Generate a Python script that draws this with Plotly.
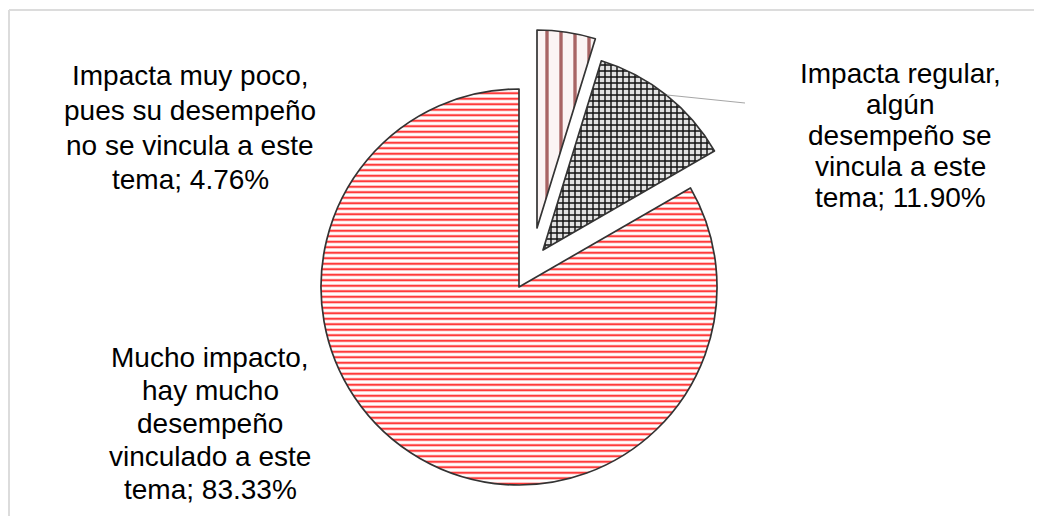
import plotly.graph_objects as go

W, H = 1042, 516
PAGE_OFFSET = 8   # the html body margin shifts the figure by 8px

# data
categories = [
    "Impacta muy poco, pues su desempeño no se vincula a este tema",
    "Impacta regular, algún desempeño se vincula a este tema",
    "Mucho impacto, hay mucho desempeño vinculado a este tema",
]
label_lines = [
    ["Impacta muy poco,", "pues su desempeño", "no se vincula a este", "tema;"],
    ["Impacta regular,", "algún", "desempeño se", "vincula a este", "tema;"],
    ["Mucho impacto,", "hay mucho", "desempeño", "vinculado a este", "tema;"],
]
values = [4.76, 11.90, 83.33]

# layout / style
center = (519, 287)   # pixel centre of the pie
radius = 198
explode = [(18, -59), (24, -37), (0, 0)]   # pixel offsets of exploded slices
label_x = [190, 900, 210]
label_y0 = [75, 73, 357]        # centre of first line
label_step = [35, 31, 33]       # line spacing

patterns = [
    dict(shape="|", fg="#a86464", bg="#fbf4f4", size=14, solidity=0.24),
    dict(shape="+", fg="#111111", bg="#e2e2e2", size=6, solidity=0.42),
    dict(shape="-", fg="#ff3b3b", bg="#ffffff", size=5.5, solidity=0.4),
]

CLEAR = "rgba(0,0,0,0)"


def px(x):
    return (x - PAGE_OFFSET) / W


def py(y):
    return 1 - (y - PAGE_OFFSET) / H


fig = go.Figure()

# one trace per slice so each can be moved on its own (explosion)
for i in range(len(values)):
    cx = center[0] + explode[i][0]
    cy = center[1] + explode[i][1]
    n = len(values)
    fig.add_trace(go.Pie(
        labels=categories,
        values=values,
        sort=False,
        direction="clockwise",
        rotation=0,
        textinfo="none",
        hoverinfo="label+percent",
        showlegend=False,
        domain=dict(x=[px(cx - radius), px(cx + radius)],
                    y=[py(cy + radius), py(cy - radius)]),
        marker=dict(
            colors=[patterns[i]["bg"] if j == i else CLEAR for j in range(n)],
            line=dict(color="#333333",
                      width=[1.7 if j == i else 0 for j in range(n)]),
            pattern=dict(
                shape=[patterns[i]["shape"] if j == i else "" for j in range(n)],
                fgcolor=[patterns[i]["fg"] if j == i else CLEAR for j in range(n)],
                bgcolor=[patterns[i]["bg"] if j == i else CLEAR for j in range(n)],
                size=patterns[i]["size"],
                solidity=patterns[i]["solidity"],
                fillmode="replace",
            ),
        ),
    ))

# data labels, one annotation per line to match the line spacing
for k, (lines, v) in enumerate(zip(label_lines, values)):
    rows = lines[:-1] + [f"{lines[-1]} {v:.2f}%"]
    for r, row in enumerate(rows):
        fig.add_annotation(
            x=px(label_x[k]), y=py(label_y0[k] + r * label_step[k]),
            xref="paper", yref="paper",
            text=row, showarrow=False, align="center",
            xanchor="center", yanchor="middle",
            font=dict(family="Liberation Sans, Arial", size=28, color="#000000"),
        )

shapes = [
    # leader line for the 11.90% label
    dict(type="line", xref="paper", yref="paper",
         x0=px(667), y0=py(95), x1=px(745), y1=py(103),
         line=dict(color="#a6a6a6", width=1)),
    # chart frame (top and left visible)
    dict(type="line", xref="paper", yref="paper",
         x0=px(9), y0=py(10), x1=1, y1=py(10),
         line=dict(color="#dcdcdc", width=2)),
    dict(type="line", xref="paper", yref="paper",
         x0=px(9), y0=py(10), x1=px(9), y1=0,
         line=dict(color="#dcdcdc", width=2)),
]

fig.update_layout(
    width=W, height=H,
    margin=dict(l=0, r=0, t=0, b=0),
    paper_bgcolor="white",
    plot_bgcolor="white",
    shapes=shapes,
)

fig.write_html("out.html")
